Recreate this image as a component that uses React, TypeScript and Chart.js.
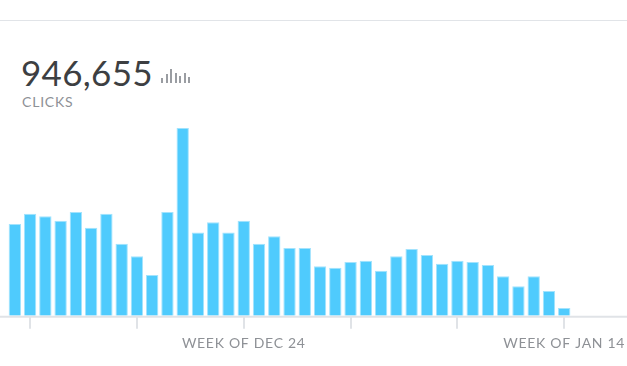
import React, { useEffect, useRef } from "react";
import { Chart, registerables } from "chart.js";

Chart.register(...registerables);

const categories: string[] = [
  "Dec 9", "Dec 10", "Dec 11", "Dec 12", "Dec 13", "Dec 14", "Dec 15", "Dec 16",
  "Dec 17", "Dec 18", "Dec 19", "Dec 20", "Dec 21", "Dec 22", "Dec 23", "Dec 24",
  "Dec 25", "Dec 26", "Dec 27", "Dec 28", "Dec 29", "Dec 30", "Dec 31", "Jan 1",
  "Jan 2", "Jan 3", "Jan 4", "Jan 5", "Jan 6", "Jan 7", "Jan 8", "Jan 9",
  "Jan 10", "Jan 11", "Jan 12", "Jan 13", "Jan 14", "Jan 15", "Jan 16", "Jan 17",
  "Jan 18",
];

const clicks: number[] = [
  33700, 37450, 36500, 34900, 38100, 32300, 37450, 26450, 21800, 14950,
  38100, 69050, 30600, 34300, 30600, 34900, 26450, 29150, 24850, 24850,
  18150, 17650, 19700, 20200, 16550, 21800, 24500, 22300, 19100, 20200,
  19700, 18600, 14450, 10800, 14450, 9050, 2850, 0, 0, 0, 0,
];

const tickLabels: Record<number, string> = {
  15: "WEEK OF DEC 24",
  36: "WEEK OF JAN 14",
};

const totalLabel = "946,655";
const metricLabel = "CLICKS";
const iconBars: number[] = [5, 9, 14, 10, 7, 10, 6];

const FONT = "Lato, 'Open Sans', sans-serif";

export default function App() {
  const canvasRef = useRef<HTMLCanvasElement | null>(null);

  useEffect(() => {
    if (!canvasRef.current) return;
    const axisLine = {
      id: "axisLine",
      beforeDraw(chart: any) {
        chart.ctx.letterSpacing = "0.7px";
      },
      afterDatasetsDraw(chart: any) {
        const { ctx, chartArea } = chart;
        ctx.save();
        ctx.strokeStyle = "#e0e3e7";
        ctx.lineWidth = 2;
        ctx.beginPath();
        ctx.moveTo(0, chartArea.bottom + 1);
        ctx.lineTo(chart.width, chartArea.bottom + 1);
        ctx.stroke();
        ctx.restore();
      },
    };
    const chart = new Chart(canvasRef.current, {
      type: "bar",
      data: {
        labels: categories,
        datasets: [
          {
            data: clicks,
            backgroundColor: "#4fcbfd",
            borderColor: "#a3e3fd",
            borderWidth: 1,
            barPercentage: 0.81,
            categoryPercentage: 1,
          },
        ],
      },
      options: {
        animation: false,
        responsive: false,
        maintainAspectRatio: false,
        layout: { padding: { left: 7.2, right: 7.1, top: 7.7, bottom: 10.3 } },
        plugins: { legend: { display: false }, tooltip: { enabled: false } },
        scales: {
          y: { display: false, min: 0, max: 69050 },
          x: {
            afterFit: (scale: any) => {
              scale.height = 40;
            },
            border: { display: false },
            grid: {
              offset: false,
              drawOnChartArea: false,
              drawTicks: true,
              tickLength: 13,
              lineWidth: 2,
              color: (ctx: any) => (ctx.index % 7 === 1 ? "#e0e3e7" : "rgba(0,0,0,0)"),
            },
            ticks: {
              autoSkip: false,
              maxRotation: 0,
              minRotation: 0,
              padding: 6,
              color: "#8e9196",
              font: { family: FONT, size: 14 },
              callback: (_v: any, i: number) => tickLabels[i] ?? "",
            },
          },
        },
      },
      plugins: [axisLine],
    });
    return () => chart.destroy();
  }, []);

  return (
    <div
      style={{
        position: "absolute",
        left: 0,
        top: 0,
        width: 627,
        height: 366,
        overflow: "hidden",
        background: "#fff",
        fontFamily: FONT,
      }}
    >
      <div style={{ position: "absolute", left: 0, top: 20, width: 627, height: 1, background: "#e1e4e8" }} />
      <div
        style={{
          position: "absolute",
          left: 21,
          top: 52,
          fontSize: 35,
          lineHeight: "40px",
          letterSpacing: "0.3px",
          color: "#3d3f42",
          whiteSpace: "nowrap",
        }}
      >
        {totalLabel}
      </div>
      <div style={{ position: "absolute", left: 161, top: 67, height: 16, display: "flex", alignItems: "flex-end", gap: 2.5 }}>
        {iconBars.map((h, i) => (
          <div key={i} style={{ width: 2, height: h, background: "#9a9da2" }} />
        ))}
      </div>
      <div
        style={{
          position: "absolute",
          left: 22,
          top: 93,
          fontSize: 14,
          lineHeight: "18px",
          letterSpacing: "0.8px",
          color: "#8e9196",
        }}
      >
        {metricLabel}
      </div>
      <canvas
        ref={canvasRef}
        width={640}
        height={246}
        style={{ position: "absolute", left: 0, top: 120, width: 640, height: 246 }}
      />
    </div>
  );
}
